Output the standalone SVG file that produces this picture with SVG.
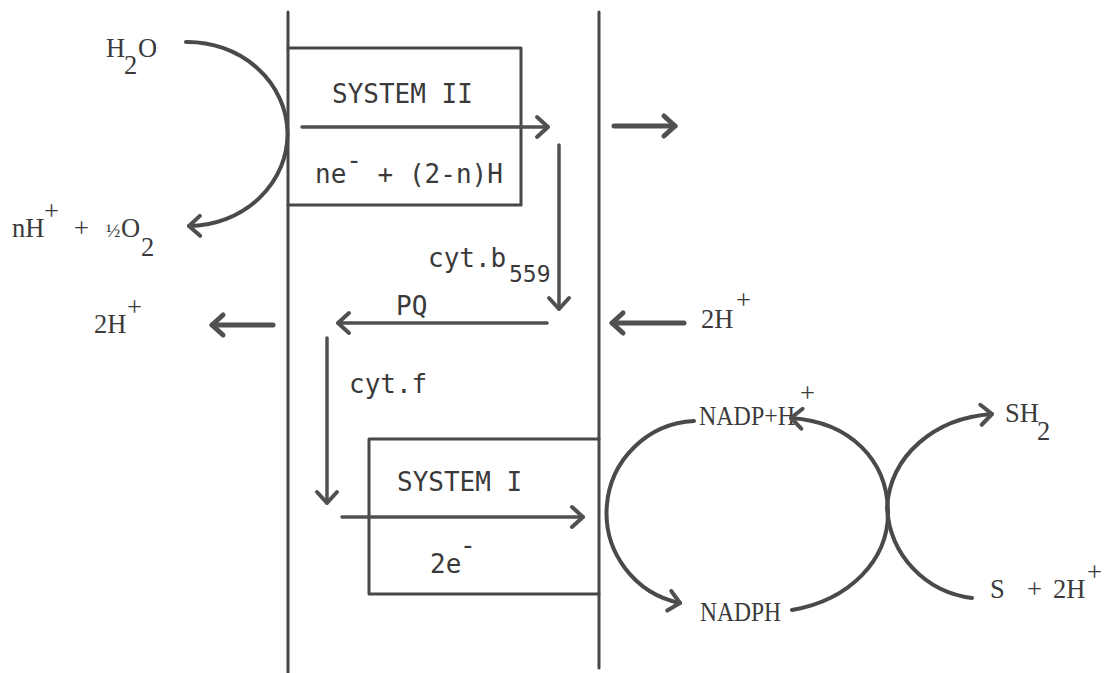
<svg xmlns="http://www.w3.org/2000/svg" width="1108" height="673" viewBox="0 0 1108 673">
<defs>
<style>
.ln{fill:none;stroke:#474747;stroke-width:3;stroke-linecap:round;stroke-linejoin:round}
.ar{fill:none;stroke:#505050;stroke-width:3.5;stroke-linecap:round}
.arb{fill:none;stroke:#505050;stroke-width:5;stroke-linecap:round}
.cv{fill:none;stroke:#4a4a4a;stroke-width:4;stroke-linecap:round}
.mono{font-family:"DejaVu Sans Mono","Liberation Mono",monospace;font-size:26px;fill:#3a3a3a}
.ser{font-family:"Liberation Serif","DejaVu Serif",serif;font-size:26.5px;fill:#3a3a3a}
</style>
<marker id="ah" viewBox="-16 -14 20 28" markerWidth="20" markerHeight="28" refX="0" refY="0" orient="auto" markerUnits="userSpaceOnUse">
<path d="M-11,-10 L0,0 L-11,10" fill="none" stroke="#505050" stroke-width="4" stroke-linecap="round" stroke-linejoin="round"/>
</marker>
<marker id="ahb" viewBox="-16 -14 20 28" markerWidth="20" markerHeight="28" refX="0" refY="0" orient="auto" markerUnits="userSpaceOnUse">
<path d="M-11,-10 L0,0 L-11,10" fill="none" stroke="#505050" stroke-width="5" stroke-linecap="round" stroke-linejoin="round"/>
</marker>
</defs>
<rect width="1108" height="673" fill="#ffffff"/>

<g id="membrane">
<path class="ln" d="M288,12 V673"/>
<path class="ln" d="M599,12 V668"/>
</g>

<g id="system2">
<path class="ln" d="M288,48 H521 V205 H288"/>
<text class="mono" x="332" y="103">SYSTEM II</text>
<text class="mono" x="315" y="183">ne<tspan dy="-14">-</tspan><tspan dy="14"> + (2-n)H</tspan></text>
</g>

<g id="system1">
<path class="ln" d="M599,439 H369 V594 H599"/>
<text class="mono" x="430" y="573">2e</text>
<text class="mono" x="460" y="554">-</text>
<text class="mono" x="397" y="491">SYSTEM I</text>
</g>

<g id="cytb559">
<text class="mono" x="428" y="267">cyt.b<tspan x="509" y="282" font-size="23">559</tspan></text>
</g>
<g id="pq"><text class="mono" x="396" y="315">PQ</text></g>
<g id="cytf"><text class="mono" x="349" y="393">cyt.f</text></g>

<g id="h2o"><text class="ser" x="106" y="57">H<tspan x="124" y="74">2</tspan><tspan x="138" y="57">O</tspan></text></g>
<g id="o2"><text class="ser" x="12" y="237">nH<tspan x="44" y="220">+</tspan><tspan x="74" y="237">+</tspan><tspan x="106" y="237" font-size="19">½</tspan><tspan x="121" y="237">O</tspan><tspan x="141" y="256">2</tspan></text></g>
<g id="h2left"><text class="ser" x="94" y="333">2H<tspan x="127" y="316">+</tspan></text></g>
<g id="h2right"><text class="ser" x="701" y="328">2H<tspan x="736" y="309">+</tspan></text></g>
<g id="nadp">
<text class="ser" x="699" y="425" textLength="96" lengthAdjust="spacingAndGlyphs">NADP+H</text>
<text class="ser" x="800" y="402">+</text>
</g>
<g id="nadph"><text class="ser" x="700" y="621" textLength="81" lengthAdjust="spacingAndGlyphs">NADPH</text></g>
<g id="sh2"><text class="ser" x="1005" y="422">SH<tspan x="1037" y="440">2</tspan></text></g>
<g id="s2h"><text class="ser" x="990" y="598">S<tspan x="1027">+</tspan><tspan x="1053">2H</tspan><tspan x="1087" y="581">+</tspan></text></g>

<g id="connectors">
<path class="ar" d="M302,127 H548" marker-end="url(#ah)"/>
<path class="arb" d="M614,126 H675" marker-end="url(#ahb)"/>
<path class="ar" d="M559,145 V309" marker-end="url(#ah)"/>
<path class="ar" d="M547,323 H338" marker-end="url(#ah)"/>
<path class="arb" d="M273,325 H212" marker-end="url(#ahb)"/>
<path class="arb" d="M684,323 H612" marker-end="url(#ahb)"/>
<path class="ar" d="M327,338 V503" marker-end="url(#ah)"/>
<path class="ar" d="M342,517 H583" marker-end="url(#ah)"/>
<path class="cv" d="M186,42 A100,92 0 0 1 189,226" marker-end="url(#ah)"/>
<path class="cv" d="M694,421 A92,92 0 0 0 680,603" marker-end="url(#ah)"/>
<path class="cv" d="M792,610 C850,600 888,560 888,513 C888,460 850,422 791,418" marker-end="url(#ah)"/>
<path class="cv" d="M887,508 C890,455 935,418 992,414" marker-end="url(#ah)"/>
<path class="cv" d="M887,508 C890,555 925,592 972,598"/>
</g>
</svg>
